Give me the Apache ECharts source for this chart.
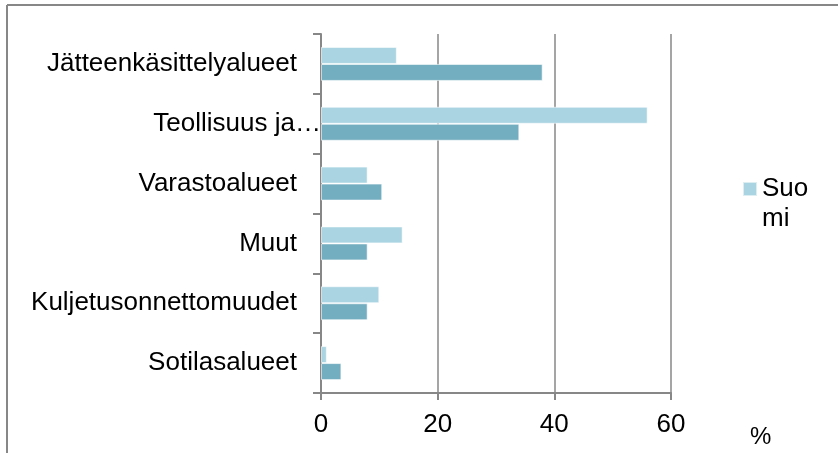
<!DOCTYPE html>
<html>
<head>
<meta charset="utf-8">
<script src="https://cdn.jsdelivr.net/npm/echarts@6/dist/echarts.min.js"></script>
<style>
  html, body { margin: 0; padding: 0; background: #fff; }
  #main { width: 838px; height: 453px; }
</style>
</head>
<body>
<div id="main"></div>
<script>
// kategoriat ylhäältä alas
var categories = ['Jätteenkäsittelyalueet', 'Teollisuus ja…', 'Varastoalueet', 'Muut', 'Kuljetusonnettomuudet', 'Sotilasalueet'];
// vaalea sarja (Suomi) ja tumma sarja
var suomi = [13, 56, 8, 14, 10, 1];
var toinen = [38, 34, 10.5, 8, 8, 3.5];
var xTicks = [0, 20, 40, 60];

var font = '"Liberation Sans", Arial, sans-serif';
var gray = '#878787';

var chart = echarts.init(document.getElementById('main'));

var option = {
  animation: false,
  textStyle: { fontFamily: font },
  grid: { left: 321, top: 34, width: 350, height: 359, containLabel: false },
  legend: {
    data: ['Suomi'],
    left: 737,
    top: 139,
    itemWidth: 14,
    itemHeight: 14,
    icon: 'rect',
    // tyhjä ensimmäinen rivi, jotta "Suo" asettuu neliön kohdalle
    formatter: function () { return '{a| }\n{a|Suo}\n{a|mi}'; },
    textStyle: {
      fontSize: 26, color: '#000', fontFamily: font, lineHeight: 30,
      rich: { a: { fontSize: 26, lineHeight: 30, fontFamily: font, color: '#000' } }
    }
  },
  xAxis: {
    type: 'value',
    min: xTicks[0],
    max: xTicks[xTicks.length - 1],
    interval: 20,
    axisLine: { show: true, lineStyle: { color: gray, width: 2 } },
    axisTick: { show: true, length: 7, lineStyle: { color: gray, width: 2 } },
    axisLabel: { fontSize: 26, color: '#000', margin: 19, fontFamily: font },
    splitLine: { show: true, lineStyle: { color: gray, width: 1.5 } }
  },
  yAxis: {
    type: 'category',
    inverse: true,
    data: categories.map(function (c) {
      if (c.indexOf('…') > -1) return { value: c, textStyle: { padding: [0, -24, 0, 0] } };
      return c;
    }),
    axisLine: { show: true, lineStyle: { color: gray, width: 2 } },
    axisTick: { show: true, length: 8, lineStyle: { color: gray, width: 2 } },
    axisLabel: { fontSize: 26, color: '#000', margin: 24, fontFamily: font },
    splitLine: { show: false }
  },
  series: [
    {
      name: 'Suomi',
      type: 'bar',
      data: suomi,
      barWidth: 17,
      barGap: '0%',
      itemStyle: { color: '#AAD4E1', borderColor: 'rgba(255,255,255,0.6)', borderWidth: 1 }
    },
    {
      name: 'Muu',
      type: 'bar',
      data: toinen,
      barWidth: 17,
      barGap: '0%',
      itemStyle: { color: '#73ADC0', borderColor: 'rgba(255,255,255,0.6)', borderWidth: 1 }
    }
  ],
  graphic: [
    { type: 'line', shape: { x1: 7, y1: 5, x2: 838, y2: 5 }, style: { stroke: gray, lineWidth: 2 } },
    { type: 'line', shape: { x1: 7, y1: 5, x2: 7, y2: 453 }, style: { stroke: gray, lineWidth: 2 } },
    { type: 'text', left: 750, top: 425, style: { text: '%', font: '24px ' + font, fill: '#000' } }
  ]
};

chart.setOption(option);
</script>
</body>
</html>
